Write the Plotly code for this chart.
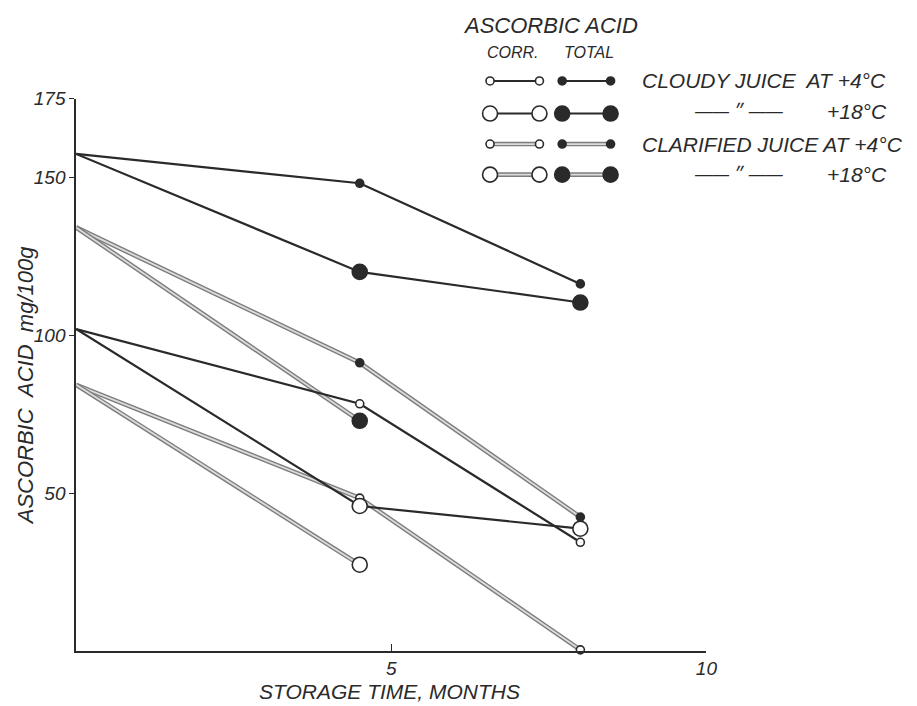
import plotly.graph_objects as go

# ---------------- data ----------------
months = [0, 4.5, 8]

cloudy_4_total = [157.5, 148.2, 116.3]
cloudy_18_total = [157.5, 120.1, 110.4]
cloudy_4_corr = [102.0, 78.3, 34.4]
cloudy_18_corr = [102.0, 45.9, 38.7]

clar_4_total = [134.2, 91.3, 42.4]
clar_18_total = [134.2, 72.9]
clar_4_corr = [84.3, 48.4, 0.3]
clar_18_corr = [84.3, 27.3]

y_ticks = [50, 100, 150, 175]
x_ticks = [5, 10]

W, H = 917, 706
INK = "#2a2a2a"
FONT = "Liberation Sans"

fig = go.Figure()

def add_series(x, y, kind, filled, big):
    if kind == "cloudy":
        fig.add_trace(go.Scatter(x=x, y=y, mode="lines",
                                 line=dict(color=INK, width=2.2),
                                 hoverinfo="skip", showlegend=False))
    else:
        fig.add_trace(go.Scatter(x=x, y=y, mode="lines",
                                 line=dict(color="#7d7d7d", width=4.6),
                                 hoverinfo="skip", showlegend=False))
        fig.add_trace(go.Scatter(x=x, y=y, mode="lines",
                                 line=dict(color="#dcdcdc", width=1.8),
                                 hoverinfo="skip", showlegend=False))
    size = 15 if big else 8
    fig.add_trace(go.Scatter(
        x=x[1:], y=y[1:], mode="markers", cliponaxis=False,
        marker=dict(size=size, color=INK if filled else "white",
                    line=dict(color=INK, width=1.6)),
        showlegend=False))

add_series(months[:len(clar_4_corr)], clar_4_corr, "clar", False, False)
add_series(months[:len(clar_18_corr)], clar_18_corr, "clar", False, True)
add_series(months[:len(clar_4_total)], clar_4_total, "clar", True, False)
add_series(months[:len(clar_18_total)], clar_18_total, "clar", True, True)
add_series(months, cloudy_4_corr, "cloudy", False, False)
add_series(months, cloudy_18_corr, "cloudy", False, True)
add_series(months, cloudy_4_total, "cloudy", True, False)
add_series(months, cloudy_18_total, "cloudy", True, True)

# ---------------- legend (pixel overlay axes) ----------------
legend_rows = [  # (y pixel, kind, big)
    (72, "cloudy", False),
    (105, "cloudy", True),
    (136, "clar", False),
    (167, "clar", True),
]
col_corr = [496, 546]
col_total = [569, 618]

for ypix, kind, big in legend_rows:
    for xs, filled in ((col_corr, False), (col_total, True)):
        ys = [ypix, ypix]
        if kind == "cloudy":
            fig.add_trace(go.Scatter(x=xs, y=ys, xaxis="x2", yaxis="y2", mode="lines",
                                     line=dict(color=INK, width=2.2),
                                     hoverinfo="skip", showlegend=False))
        else:
            fig.add_trace(go.Scatter(x=xs, y=ys, xaxis="x2", yaxis="y2", mode="lines",
                                     line=dict(color="#7d7d7d", width=4.6),
                                     hoverinfo="skip", showlegend=False))
            fig.add_trace(go.Scatter(x=xs, y=ys, xaxis="x2", yaxis="y2", mode="lines",
                                     line=dict(color="#dcdcdc", width=1.8),
                                     hoverinfo="skip", showlegend=False))
        fig.add_trace(go.Scatter(
            x=xs, y=ys, xaxis="x2", yaxis="y2", mode="markers",
            marker=dict(size=15 if big else 8, color=INK if filled else "white",
                        line=dict(color=INK, width=1.6)),
            hoverinfo="skip", showlegend=False))

def txt(x, y, s, size=19, xanchor="center", angle=0):
    return dict(x=x, y=y, xref="x2", yref="y2", text=s, showarrow=False,
                xanchor=xanchor, yanchor="middle", textangle=angle,
                font=dict(family=FONT, size=size, color=INK, style="italic"))

annotations = [
    txt(557, 16, "ASCORBIC ACID", 22),
    txt(519, 43, "CORR.", 16),
    txt(596, 43, "TOTAL", 16),
    txt(648, 72, "CLOUDY JUICE  AT +4°C", 21, "left"),
    txt(748, 103, "—— ״ ——", 17),
    txt(900, 103, "+18°C", 21, "right"),
    txt(648, 136, "CLARIFIED JUICE AT +4°C", 21, "left"),
    txt(748, 167, "—— ״ ——", 17),
    txt(900, 167, "+18°C", 21, "right"),
    txt(394, 691, "STORAGE TIME, MONTHS", 21),
    txt(26, 381, "ASCORBIC  ACID  mg/100g", 22, "center", -90),
]

x_dom = [77 / W, 715 / W]
y_dom = [(H - 650) / H, (H - 90) / H]

fig.update_layout(
    width=W, height=H,
    margin=dict(l=0, r=0, t=0, b=0),
    paper_bgcolor="white", plot_bgcolor="rgba(0,0,0,0)",
    showlegend=False,
    annotations=annotations,
    xaxis=dict(domain=x_dom, range=[0, 10], tickvals=x_ticks,
               ticktext=[str(v) for v in x_ticks],
               showgrid=False, zeroline=False, showline=True,
               linecolor=INK, linewidth=1.6, ticks="inside", ticklen=7,
               tickcolor=INK, tickwidth=1.4, anchor="y",
               tickfont=dict(family=FONT, size=19, color=INK, style="italic")),
    yaxis=dict(domain=y_dom, range=[0, 175], tickvals=y_ticks,
               ticktext=[str(v) for v in y_ticks],
               showgrid=False, zeroline=False, showline=True,
               linecolor=INK, linewidth=1.6, ticks="outside", ticklen=5,
               tickcolor=INK, tickwidth=1.4, anchor="x",
               tickfont=dict(family=FONT, size=19, color=INK, style="italic")),
    xaxis2=dict(domain=[0, 1], range=[0, W], visible=False, anchor="y2",
                fixedrange=True),
    yaxis2=dict(domain=[0, 1], range=[H, 0], visible=False, anchor="x2",
                fixedrange=True),
)

fig.write_html(
    "out.html",
    config={"displayModeBar": False},
    post_script="document.body.style.margin='0';document.body.style.overflow='hidden';",
)
